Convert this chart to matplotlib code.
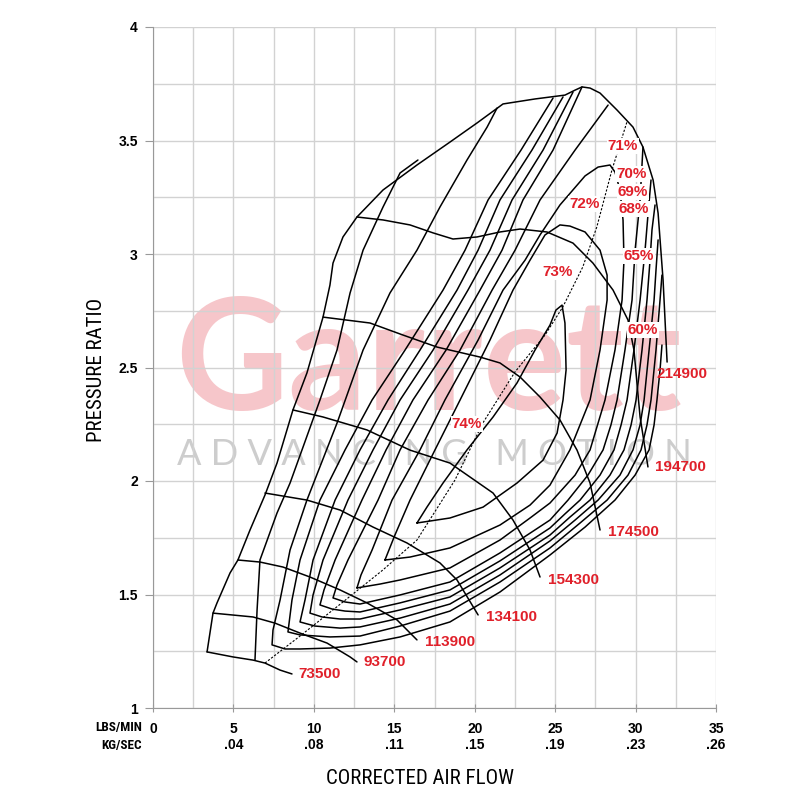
import matplotlib
matplotlib.use("Agg")
import matplotlib.pyplot as plt
from matplotlib import font_manager
from matplotlib.ticker import MultipleLocator

# ---------------- data: corrected flow (lbs/min) vs pressure ratio ----------------
# map outline: surge line, top, and choke side (214900 rpm speed line)
outline_flow = [3.36, 3.73, 3.98, 4.79, 5.28, 6.03, 6.96, 7.71, 8.70, 9.57, 10.57, 11.00, 11.19, 11.81,
                12.68, 14.30, 16.41, 18.46, 20.14, 21.76, 23.75, 25.61, 26.24, 26.67, 27.17, 27.79,
                28.85, 29.84, 30.46, 31.09, 31.40, 31.71, 31.96]
outline_pr = [1.247, 1.418, 1.463, 1.595, 1.652, 1.784, 1.938, 2.079, 2.313, 2.476, 2.722, 2.863, 2.960,
              3.075, 3.163, 3.282, 3.392, 3.493, 3.577, 3.661, 3.683, 3.700, 3.722, 3.736, 3.731, 3.709,
              3.634, 3.559, 3.471, 3.326, 3.180, 2.885, 2.524]

# speed lines
spd73500_flow = [3.36, 4.97, 6.22, 6.96, 7.90, 8.64]
spd73500_pr = [1.247, 1.225, 1.211, 1.198, 1.167, 1.150]
spd93700_flow = [3.73, 6.22, 7.58, 9.14, 10.82, 12.25, 12.68]
spd93700_pr = [1.418, 1.401, 1.374, 1.330, 1.286, 1.225, 1.203]
spd113900_flow = [5.28, 6.65, 8.08, 9.76, 11.63, 13.30, 15.17, 16.41]
spd113900_pr = [1.652, 1.643, 1.621, 1.577, 1.520, 1.463, 1.388, 1.300]
spd134100_flow = [6.96, 9.57, 11.63, 13.68, 15.79, 17.84, 18.90, 20.21]
spd134100_pr = [1.947, 1.916, 1.872, 1.797, 1.727, 1.639, 1.564, 1.410]
spd154300_flow = [8.70, 10.57, 13.30, 15.98, 18.46, 21.14, 22.38, 23.44, 24.06]
spd154300_pr = [2.313, 2.282, 2.225, 2.136, 2.079, 1.947, 1.828, 1.696, 1.577]
spd174500_flow = [10.57, 13.49, 15.54, 17.66, 20.33, 21.57, 22.82, 24.06, 25.30, 26.36, 27.17, 27.79]
spd174500_pr = [2.722, 2.696, 2.643, 2.590, 2.546, 2.520, 2.458, 2.370, 2.269, 2.136, 1.991, 1.784]
spd194700_flow = [12.68, 14.30, 15.98, 17.41, 18.65, 20.14, 21.57, 22.82, 24.49, 26.11, 27.35, 28.60,
                  29.53, 29.90, 30.28, 30.77]
spd194700_pr = [3.163, 3.150, 3.128, 3.093, 3.066, 3.075, 3.097, 3.110, 3.097, 3.048, 2.960, 2.841,
                2.709, 2.577, 2.282, 2.062]

speed_label_text = ["73500", "93700", "113900", "134100", "154300", "174500", "194700", "214900"]
speed_label_flow = [9.01, 13.06, 16.91, 20.70, 24.56, 28.29, 31.21, 31.33]
speed_label_pr = [1.150, 1.203, 1.291, 1.401, 1.564, 1.775, 2.062, 2.471]

# efficiency contours (outer ones are cut by the map outline)
eff_a_flow = [6.34, 6.47, 6.65, 7.71, 8.52, 9.33, 10.38, 11.44, 12.25, 13.06, 14.30, 15.36, 16.47]
eff_a_pr = [1.211, 1.432, 1.652, 1.859, 1.991, 2.150, 2.357, 2.577, 2.828, 3.017, 3.207, 3.357, 3.414]

eff_b_flow = [21.39, 20.77, 19.52, 17.84, 16.41, 14.73, 13.06, 11.44, 9.57, 8.52, 7.90, 7.46, 7.40,
              8.21, 9.14, 11.00, 12.87, 15.36, 18.46, 21.57, 24.68, 26.86, 28.72, 29.97, 30.84,
              31.15, 31.33, 31.52, 31.64]
eff_b_pr = [3.643, 3.559, 3.414, 3.207, 3.017, 2.828, 2.577, 2.255, 1.916, 1.696, 1.476, 1.344, 1.278,
            1.260, 1.260, 1.264, 1.278, 1.313, 1.379, 1.511, 1.674, 1.797, 1.916, 2.026, 2.137,
            2.247, 2.357, 2.489, 2.599]

eff_c_flow = [24.87, 22.88, 20.83, 19.40, 18.03, 15.67, 13.62, 11.94, 10.38, 9.14, 8.64, 8.39,
              9.14, 11.00, 12.87, 15.36, 18.46, 21.57, 24.68, 26.55, 28.23, 29.53, 30.34, 30.71,
              30.96, 31.27, 31.52, 31.64]
eff_c_pr = [3.687, 3.458, 3.238, 3.017, 2.841, 2.577, 2.357, 2.137, 1.916, 1.652, 1.476, 1.335,
            1.322, 1.313, 1.317, 1.361, 1.427, 1.555, 1.705, 1.815, 1.916, 2.026, 2.137, 2.247,
            2.357, 2.577, 2.797, 2.907]

eff_d_flow = [25.49, 23.56, 21.57, 20.21, 18.90, 16.60, 14.61, 12.87, 11.32, 9.95, 9.45, 9.14,
              10.07, 11.63, 12.87, 15.36, 18.46, 21.57, 24.68, 26.24, 27.67, 29.03, 29.84, 30.28,
              30.53, 30.84, 31.15, 31.27, 31.40]
eff_d_pr = [3.692, 3.458, 3.238, 3.017, 2.841, 2.577, 2.357, 2.137, 1.916, 1.652, 1.476, 1.379,
            1.361, 1.352, 1.357, 1.396, 1.458, 1.586, 1.736, 1.828, 1.916, 2.026, 2.137, 2.247,
            2.357, 2.577, 2.797, 2.929, 3.062]

eff_e_flow = [26.11, 24.25, 22.32, 20.95, 19.58, 17.41, 15.36, 13.68, 12.12, 10.57, 9.95, 9.76,
              10.51, 11.63, 12.87, 15.36, 18.46, 21.57, 24.68, 25.92, 27.17, 28.41, 29.28, 29.72,
              30.03, 30.40, 30.71, 30.90, 31.02, 31.21]
eff_e_pr = [3.713, 3.458, 3.238, 3.017, 2.841, 2.577, 2.357, 2.137, 1.916, 1.652, 1.498, 1.418,
            1.401, 1.392, 1.392, 1.432, 1.489, 1.617, 1.762, 1.841, 1.916, 2.026, 2.137, 2.247,
            2.357, 2.577, 2.797, 2.973, 3.106, 3.216]

eff_f_flow = [26.67, 24.87, 23.00, 21.70, 20.33, 18.22, 16.16, 14.49, 12.99, 11.32, 10.63, 10.38,
              11.13, 11.94, 12.87, 15.36, 18.46, 21.57, 24.68, 25.61, 26.55, 27.79, 28.66, 29.10,
              29.47, 29.90, 30.28, 30.59, 30.77, 30.96]
eff_f_pr = [3.736, 3.458, 3.238, 3.017, 2.841, 2.577, 2.357, 2.137, 1.916, 1.652, 1.520, 1.454,
            1.436, 1.427, 1.423, 1.463, 1.520, 1.648, 1.793, 1.855, 1.916, 2.026, 2.137, 2.247,
            2.357, 2.577, 2.797, 3.017, 3.172, 3.326]

eff_g_flow = [28.29, 26.24, 24.06, 22.51, 21.08, 19.09, 17.10, 15.36, 13.99, 12.12, 11.44, 11.19,
              11.94, 12.87, 15.36, 18.46, 21.57, 24.68, 25.80, 27.04, 27.98, 28.47, 28.85, 29.34,
              29.78, 29.97, 30.28, 30.46]
eff_g_pr = [3.656, 3.458, 3.238, 3.017, 2.841, 2.577, 2.357, 2.137, 1.916, 1.652, 1.542, 1.485,
            1.467, 1.458, 1.498, 1.555, 1.683, 1.828, 1.916, 2.026, 2.137, 2.247, 2.357, 2.577,
            2.797, 3.017, 3.238, 3.471]

eff72_flow = [12.68, 14.11, 15.36, 18.46, 21.57, 23.44, 24.68, 26.24, 27.17, 28.10, 28.72, 29.16,
              29.28, 29.22, 29.03, 28.72, 28.41, 27.67, 26.86, 25.30, 24.06, 23.13, 21.76, 20.21,
              18.15, 16.60, 14.86, 13.62, 12.93, 12.68]
eff72_pr = [1.529, 1.546, 1.564, 1.617, 1.740, 1.837, 1.903, 2.026, 2.137, 2.357, 2.577, 2.797,
            2.973, 3.150, 3.282, 3.361, 3.392, 3.383, 3.344, 3.216, 3.084, 2.973, 2.841, 2.621,
            2.357, 2.137, 1.916, 1.696, 1.586, 1.529]

eff73_flow = [14.42, 15.98, 18.46, 21.57, 23.44, 24.68, 25.92, 27.17, 27.79, 28.23, 28.23, 27.79,
              26.86, 25.92, 25.30, 24.37, 23.44, 22.38, 20.95, 19.09, 17.53, 15.98, 15.04, 14.42]
eff73_pr = [1.652, 1.665, 1.705, 1.806, 1.894, 1.982, 2.137, 2.357, 2.577, 2.797, 2.907, 3.017,
            3.097, 3.123, 3.128, 3.084, 2.973, 2.841, 2.621, 2.357, 2.137, 1.916, 1.762, 1.652]

eff74_flow = [16.41, 18.46, 20.52, 22.63, 24.25, 25.12, 25.49, 25.68, 25.61, 25.43, 25.05, 24.68,
              23.75, 22.63, 21.14, 19.52, 18.03, 17.03, 16.41]
eff74_pr = [1.815, 1.837, 1.885, 1.991, 2.092, 2.211, 2.357, 2.489, 2.696, 2.775, 2.753, 2.687,
            2.577, 2.432, 2.282, 2.137, 1.991, 1.885, 1.815]

eff_label_text = ["74%", "73%", "72%", "71%", "70%", "69%", "68%", "65%", "60%"]
eff_label_flow = [19.50, 25.12, 26.80, 29.22, 29.72, 29.84, 29.90, 30.21, 30.46]
eff_label_pr = [2.251, 2.921, 3.220, 3.476, 3.352, 3.273, 3.198, 2.991, 2.665]

# peak efficiency line (dashed)
peak_flow = [6.96, 9.14, 11.81, 14.29, 16.41, 18.77, 20.51, 22.50, 24.37, 25.48, 26.72, 27.59, 28.53, 29.46]
peak_pr = [1.198, 1.317, 1.467, 1.608, 1.740, 2.004, 2.256, 2.480, 2.643, 2.767, 2.943, 3.119, 3.370, 3.581]

lbs_ticks = [0, 5, 10, 15, 20, 25, 30, 35]
kg_ticks = ["", ".04", ".08", ".11", ".15", ".19", ".23", ".26"]


def pick_font(names):
    have = {f.name for f in font_manager.fontManager.ttflist}
    for n in names:
        if n in have:
            return n
    return "DejaVu Sans"


num_font = pick_font(["Liberation Sans", "Arial"])
narrow_font = pick_font(["Liberation Sans Narrow", "Roboto Condensed", "DejaVu Sans"])
wm_font = pick_font(["Lato", "Open Sans", "DejaVu Sans"])
red = "#e0202a"

fig = plt.figure(figsize=(8, 8), dpi=100)
ax = fig.add_axes([0.19125, 0.115, 0.70375, 0.85125])
ax.set_xlim(0, 35)
ax.set_ylim(1, 4)
ax.set_axisbelow(True)

# watermark
ax.text(0.49, 0.437, "Garrett", transform=ax.transAxes, ha="center", va="baseline",
        fontsize=112, color="#dc1e2d", alpha=0.25, family=wm_font, fontweight="bold", zorder=0.1)
ax.text(0.50, 0.372, "A D V A N C I N G   M O T I O N", transform=ax.transAxes, ha="center",
        va="center", fontsize=26, color="#cdcdcd", family=wm_font, zorder=0.1)

line_kw = dict(color="black", lw=1.1, solid_joinstyle="round", solid_capstyle="round", zorder=2)

ax.plot(outline_flow, outline_pr, **line_kw)
for fx, py in [(spd73500_flow, spd73500_pr), (spd93700_flow, spd93700_pr),
               (spd113900_flow, spd113900_pr), (spd134100_flow, spd134100_pr),
               (spd154300_flow, spd154300_pr), (spd174500_flow, spd174500_pr),
               (spd194700_flow, spd194700_pr)]:
    ax.plot(fx, py, **line_kw)

for fx, py in [(eff_a_flow, eff_a_pr), (eff_b_flow, eff_b_pr), (eff_c_flow, eff_c_pr),
               (eff_d_flow, eff_d_pr), (eff_e_flow, eff_e_pr), (eff_f_flow, eff_f_pr),
               (eff_g_flow, eff_g_pr), (eff72_flow, eff72_pr), (eff73_flow, eff73_pr),
               (eff74_flow, eff74_pr)]:
    ax.plot(fx, py, **line_kw)

ax.plot(peak_flow, peak_pr, color="black", lw=0.8, linestyle=(0, (2, 1.5)), zorder=2)

for t, fx, py in zip(speed_label_text, speed_label_flow, speed_label_pr):
    ax.text(fx, py, t, color=red, fontsize=11, fontweight="bold", family=num_font,
            ha="left", va="center", zorder=3)
for t, fx, py in zip(eff_label_text, eff_label_flow, eff_label_pr):
    ax.text(fx, py, t, color=red, fontsize=11, fontweight="bold", family=num_font,
            ha="center", va="center", zorder=3,
            bbox=dict(facecolor="white", edgecolor="none", pad=0.6))

# grid / ticks
ax.xaxis.set_major_locator(MultipleLocator(5))
ax.xaxis.set_minor_locator(MultipleLocator(2.5))
ax.yaxis.set_major_locator(MultipleLocator(0.5))
ax.yaxis.set_minor_locator(MultipleLocator(0.25))
ax.grid(which="both", color="#d2d2d2", lw=1.0)
ax.tick_params(which="minor", length=0)
ax.tick_params(axis="y", which="major", direction="out", length=6, color="#999999", pad=5)
ax.tick_params(axis="x", which="major", direction="inout", length=6, color="#999999", pad=7)
for s in ["top", "right"]:
    ax.spines[s].set_visible(False)
for s in ["left", "bottom"]:
    ax.spines[s].set_color("#999999")

ax.set_xticks(lbs_ticks)
ax.set_xticklabels([f"{a}\n{b}" if b else f"{a}" for a, b in zip(lbs_ticks, kg_ticks)],
                   fontsize=10, fontweight="bold", family=num_font, linespacing=1.2)
ax.set_yticks([1, 1.5, 2, 2.5, 3, 3.5, 4])
ax.set_yticklabels(["1", "1.5", "2", "2.5", "3", "3.5", "4"], fontsize=10, fontweight="bold",
                   family=num_font)

fig.text(142 / 800, 1 - 728 / 800, "LBS/MIN", ha="right", va="center", fontsize=9.5,
         fontweight="bold", family=narrow_font)
fig.text(142 / 800, 1 - 745 / 800, "KG/SEC", ha="right", va="center", fontsize=9.5,
         fontweight="bold", family=narrow_font)
fig.text(96 / 800, 1 - 370 / 800, "PRESSURE RATIO", rotation=90, ha="center", va="center",
         fontsize=15, family=narrow_font)
fig.text(420 / 800, 1 - 778 / 800, "CORRECTED AIR FLOW", ha="center", va="center",
         fontsize=15, family=narrow_font)

fig.savefig("out.png", dpi=100, facecolor="white")
